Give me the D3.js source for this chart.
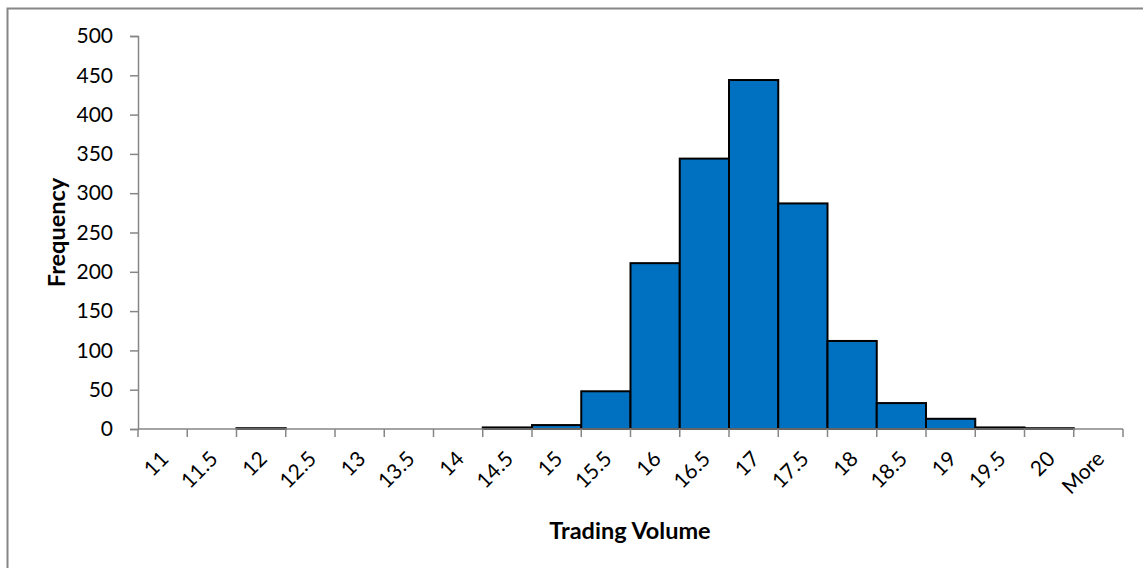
<!DOCTYPE html>
<html><head><meta charset="utf-8">
<script src="https://cdn.jsdelivr.net/npm/d3@7"></script>
<style>body{margin:0;background:#fff}svg{display:block;font-family:Lato,"Open Sans",sans-serif}</style>
</head><body>
<svg id="c" width="1143" height="568"></svg>
<script>
const categories = ["11","11.5","12","12.5","13","13.5","14","14.5","15","15.5","16","16.5","17","17.5","18","18.5","19","19.5","20","More"];
const frequency = [0,0,1,0,0,0,0,2,5,48,211,344,444,287,112,33,13,2,1,0];
const yTicks = [0,50,100,150,200,250,300,350,400,450,500];

const svg = d3.select("#c");
svg.append("rect").attr("x",7.5).attr("y",8.5).attr("width",1200).attr("height",700)
  .attr("fill","#fff").attr("stroke","#868686").attr("stroke-width",2);

const L=138,R=1123,T=36,B=429;
const x = d3.scaleBand().domain(categories).range([L,R]).paddingInner(0).paddingOuter(0);
const y = d3.scaleLinear().domain([0,500]).range([B,T]);

// bars
svg.append("g").selectAll("rect").data(categories.map((c,i)=>({c,v:frequency[i]})).filter(d=>d.v>0))
  .join("rect")
  .attr("x",d=>x(d.c)).attr("width",x.bandwidth())
  .attr("y",d=>y(d.v)).attr("height",d=>B-y(d.v))
  .attr("fill","#0070C0").attr("stroke","#000").attr("stroke-width",2);

// y axis
const gy = svg.append("g").attr("transform",`translate(${L},0)`)
  .call(d3.axisLeft(y).tickValues(yTicks).tickSize(8).tickPadding(17));
gy.select(".domain").attr("stroke","#868686").attr("stroke-width",1.5);
gy.selectAll(".tick line").attr("stroke","#868686").attr("stroke-width",1.5);
gy.selectAll(".tick text").attr("font-size",21).attr("fill","#000").attr("font-family","Lato,'Open Sans',sans-serif");

// x axis
const gx = svg.append("g").attr("transform",`translate(0,${B})`);
gx.append("line").attr("x1",L).attr("x2",R).attr("stroke","#868686").attr("stroke-width",1.5);
const bounds = categories.map(c=>x(c)).concat([R]);
gx.selectAll(".tk").data(bounds).join("line").attr("class","tk")
  .attr("x1",d=>d).attr("x2",d=>d).attr("y1",0).attr("y2",8)
  .attr("stroke","#868686").attr("stroke-width",1.5);
gx.selectAll(".lb").data(categories).join("text").attr("class","lb")
  .attr("transform",d=>`translate(${x(d)+x.bandwidth()/2+2},${26}) rotate(-45)`)
  .attr("text-anchor","end").attr("dy","0.35em")
  .attr("font-size",21).attr("fill","#000").text(d=>d);

// axis titles
svg.append("text").attr("x",630).attr("y",539).attr("text-anchor","middle")
  .attr("font-size",23.5).attr("font-weight","bold").text("Trading Volume");
svg.append("text").attr("transform",`translate(65,${(T+B)/2}) rotate(-90)`).attr("text-anchor","middle")
  .attr("font-size",23.5).attr("font-weight","bold").text("Frequency");
</script>
</body></html>
